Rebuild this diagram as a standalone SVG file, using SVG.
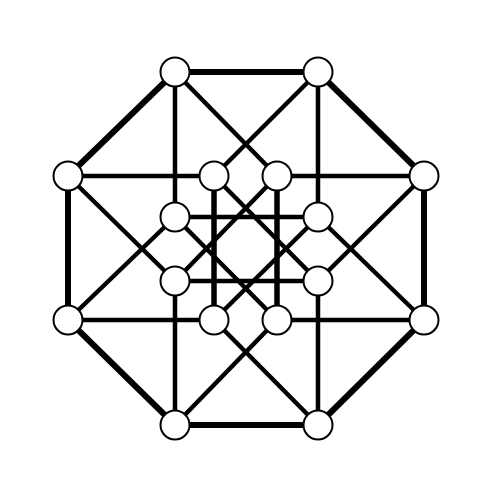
<svg xmlns="http://www.w3.org/2000/svg" width="500" height="500" viewBox="0 0 500 500">
<style>
.e{stroke:#000;stroke-width:4.5;fill:none}
.o{stroke:#000;stroke-width:6;fill:none}
.v{stroke:#000;stroke-width:5.5;fill:none}
.n{fill:#fff;stroke:#000;stroke-width:2}
</style>
<rect width="500" height="500" fill="#fff"/>
<g id="connectors">
<line class="o" x1="175" y1="72" x2="318" y2="72"/>
<line class="o" x1="318" y1="72" x2="424" y2="176"/>
<line class="o" x1="424" y1="176" x2="424" y2="320"/>
<line class="o" x1="424" y1="320" x2="318" y2="425"/>
<line class="o" x1="318" y1="425" x2="175" y2="425"/>
<line class="o" x1="175" y1="425" x2="68" y2="320"/>
<line class="o" x1="68" y1="320" x2="68" y2="176"/>
<line class="o" x1="68" y1="176" x2="175" y2="72"/>
<line class="e" x1="175" y1="72" x2="175" y2="217"/>
<line class="e" x1="175" y1="72" x2="277" y2="176"/>
<line class="e" x1="318" y1="72" x2="318" y2="217"/>
<line class="e" x1="318" y1="72" x2="214" y2="176"/>
<line class="e" x1="68" y1="176" x2="214" y2="176"/>
<line class="e" x1="68" y1="176" x2="175" y2="281"/>
<line class="e" x1="424" y1="176" x2="277" y2="176"/>
<line class="e" x1="424" y1="176" x2="318" y2="281"/>
<line class="e" x1="68" y1="320" x2="214" y2="320"/>
<line class="e" x1="68" y1="320" x2="175" y2="217"/>
<line class="e" x1="424" y1="320" x2="277" y2="320"/>
<line class="e" x1="424" y1="320" x2="318" y2="217"/>
<line class="e" x1="175" y1="425" x2="175" y2="281"/>
<line class="e" x1="175" y1="425" x2="277" y2="320"/>
<line class="e" x1="318" y1="425" x2="318" y2="281"/>
<line class="e" x1="318" y1="425" x2="214" y2="320"/>
<line class="v" x1="214" y1="176" x2="214" y2="320"/>
<line class="v" x1="277" y1="176" x2="277" y2="320"/>
<line class="e" x1="214" y1="176" x2="318" y2="281"/>
<line class="e" x1="277" y1="176" x2="175" y2="281"/>
<line class="e" x1="175" y1="217" x2="318" y2="217"/>
<line class="e" x1="175" y1="281" x2="318" y2="281"/>
<line class="e" x1="175" y1="217" x2="277" y2="320"/>
<line class="e" x1="318" y1="217" x2="214" y2="320"/>
</g>
<g id="n1"><circle class="n" cx="175" cy="72" r="14.5"/></g>
<g id="n2"><circle class="n" cx="318" cy="72" r="14.5"/></g>
<g id="n3"><circle class="n" cx="424" cy="176" r="14.5"/></g>
<g id="n4"><circle class="n" cx="424" cy="320" r="14.5"/></g>
<g id="n5"><circle class="n" cx="318" cy="425" r="14.5"/></g>
<g id="n6"><circle class="n" cx="175" cy="425" r="14.5"/></g>
<g id="n7"><circle class="n" cx="68" cy="320" r="14.5"/></g>
<g id="n8"><circle class="n" cx="68" cy="176" r="14.5"/></g>
<g id="n9"><circle class="n" cx="214" cy="176" r="14.5"/></g>
<g id="n10"><circle class="n" cx="277" cy="176" r="14.5"/></g>
<g id="n11"><circle class="n" cx="175" cy="217" r="14.5"/></g>
<g id="n12"><circle class="n" cx="318" cy="217" r="14.5"/></g>
<g id="n13"><circle class="n" cx="175" cy="281" r="14.5"/></g>
<g id="n14"><circle class="n" cx="318" cy="281" r="14.5"/></g>
<g id="n15"><circle class="n" cx="214" cy="320" r="14.5"/></g>
<g id="n16"><circle class="n" cx="277" cy="320" r="14.5"/></g>
</svg>
